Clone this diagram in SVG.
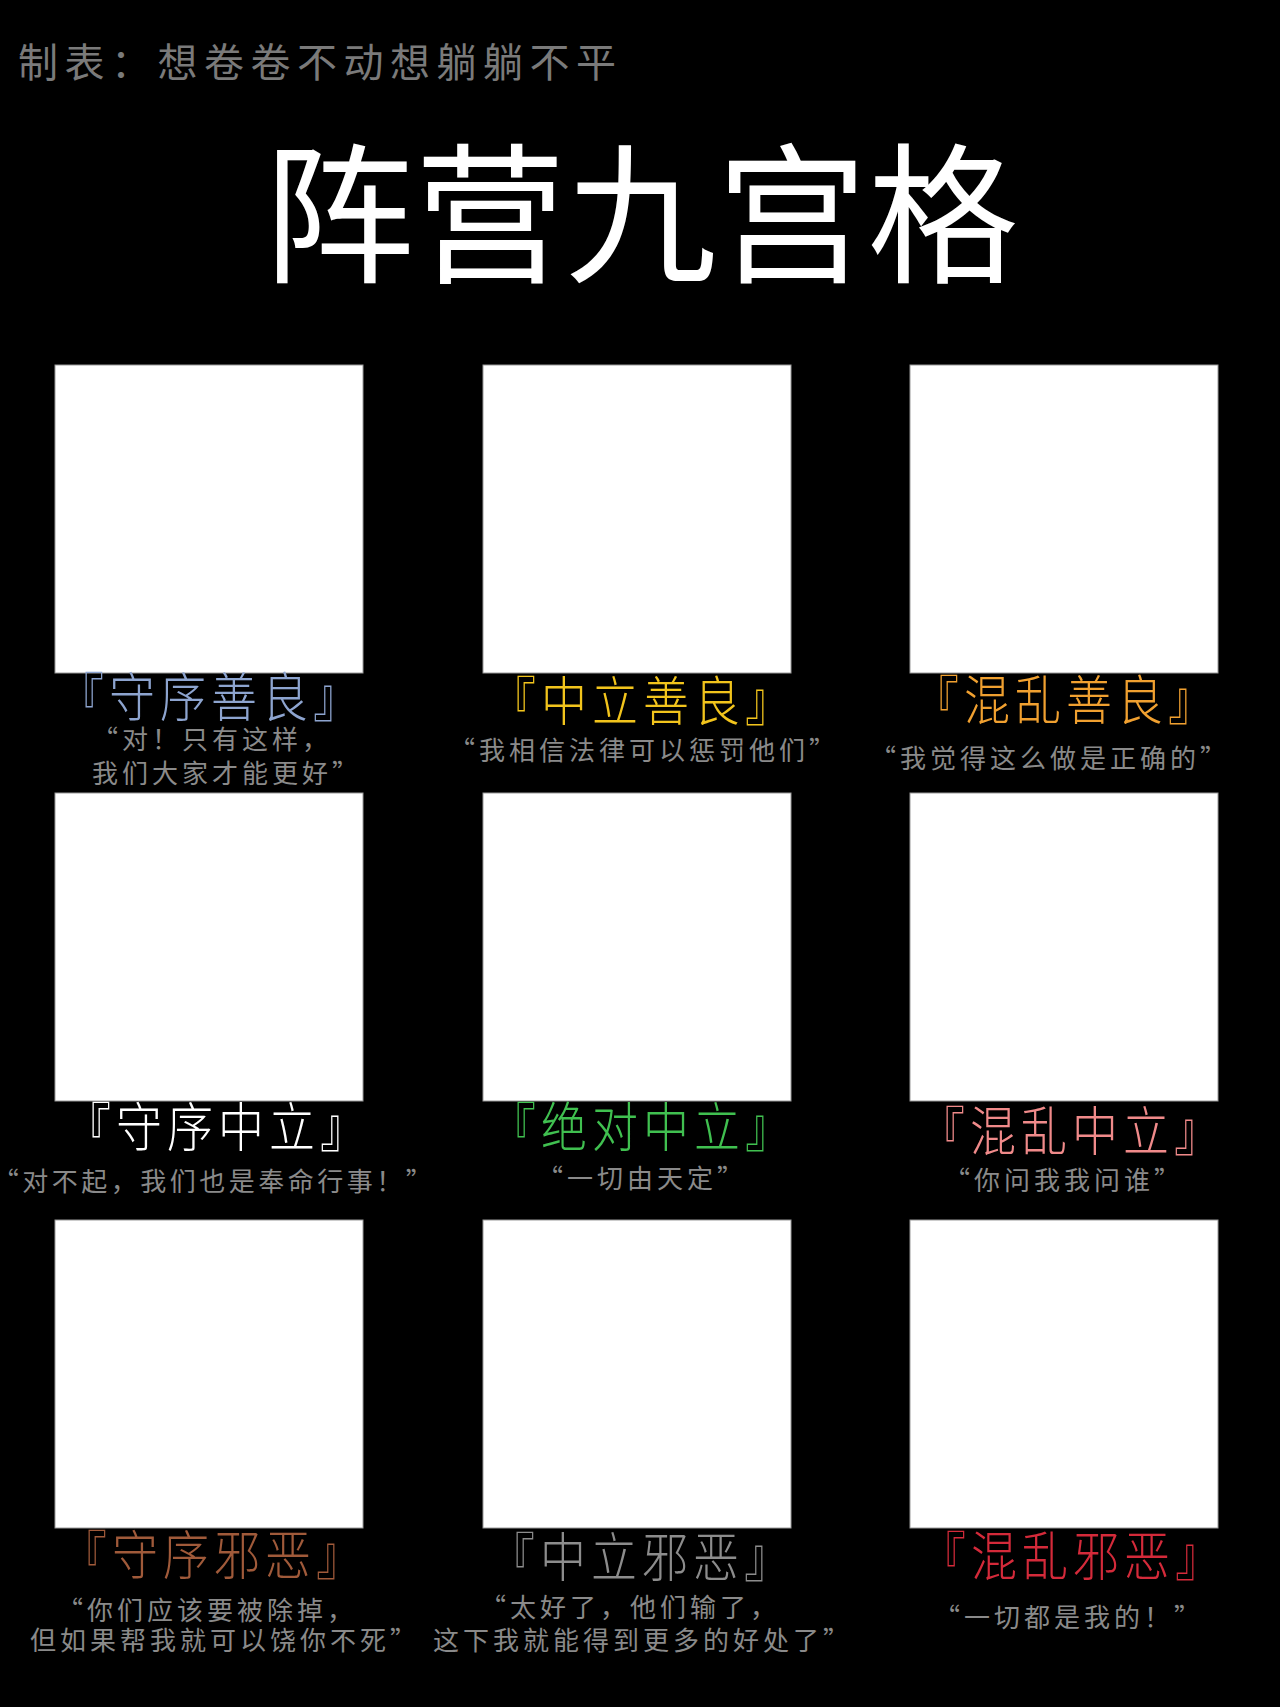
<svg xmlns="http://www.w3.org/2000/svg" width="1280" height="1707" viewBox="0 0 1280 1707">
<style>
.bg{fill:#000}
.box{fill:#fff;stroke:#9a9a9a;stroke-width:1}
.sub{font-family:"Noto Sans CJK SC","Noto Sans CJK JP",serif;font-size:40px;fill:#7a7a7a;letter-spacing:6.5px}
.title{font-family:"Noto Sans CJK SC","Noto Sans CJK JP",serif;font-size:151px;fill:#fff;font-weight:400}
.lab{font-family:"Noto Sans CJK SC","Noto Sans CJK JP",sans-serif;font-size:46px;font-weight:300;text-anchor:middle;letter-spacing:5px}
.q{font-family:"Noto Sans CJK SC","Noto Sans CJK JP",serif;font-size:26px;fill:#8a8a8a;letter-spacing:4px;text-anchor:middle}
</style>
<rect class="bg" x="0" y="0" width="1280" height="1707"/>
<g id="header">
<text class="sub" x="18" y="77">制表：想卷卷不动想躺躺不平</text>
<text class="title" x="641" y="271" text-anchor="middle">阵营九宫格</text>
</g>
<g id="connectors"/>
<g id="lawful-good">
<rect class="box" x="55" y="365" width="308" height="308"/>
<text class="lab" fill="#8da4cf" transform="translate(211,717) scale(1,1.15)">『守序善良』</text>
<text class="q" x="212" y="749">“对！只有这样，</text>
<text class="q" x="227" y="783">我们大家才能更好”</text>
</g>
<g id="neutral-good">
<rect class="box" x="483" y="365" width="308" height="308"/>
<text class="lab" fill="#f2c41c" transform="translate(643,721) scale(1,1.15)">『中立善良』</text>
<text class="q" x="644" y="760">“我相信法律可以惩罚他们”</text>
</g>
<g id="chaotic-good">
<rect class="box" x="910" y="365" width="308" height="308"/>
<text class="lab" fill="#f0a030" transform="translate(1066,720) scale(1,1.15)">『混乱善良』</text>
<text class="q" x="1050" y="768">“我觉得这么做是正确的”</text>
</g>
<g id="lawful-neutral">
<rect class="box" x="55" y="793" width="308" height="308"/>
<text class="lab" fill="#ffffff" transform="translate(218,1147) scale(1,1.15)">『守序中立』</text>
<text class="q" x="214" y="1191" style="letter-spacing:3.5px">“对不起，我们也是奉命行事！”</text>
</g>
<g id="true-neutral">
<rect class="box" x="483" y="793" width="308" height="308"/>
<text class="lab" fill="#40c050" transform="translate(643,1147) scale(1,1.15)">『绝对中立』</text>
<text class="q" x="642" y="1188">“一切由天定”</text>
</g>
<g id="chaotic-neutral">
<rect class="box" x="910" y="793" width="308" height="308"/>
<text class="lab" fill="#f08a8a" transform="translate(1072,1151) scale(1,1.15)">『混乱中立』</text>
<text class="q" x="1064" y="1190">“你问我我问谁”</text>
</g>
<g id="lawful-evil">
<rect class="box" x="55" y="1220" width="308" height="308"/>
<text class="lab" fill="#a05a3a" transform="translate(214,1575) scale(1,1.15)">『守序邪恶』</text>
<text class="q" x="207" y="1620">“你们应该要被除掉，</text>
<text class="q" x="225" y="1650">但如果帮我就可以饶你不死”</text>
</g>
<g id="neutral-evil">
<rect class="box" x="483" y="1220" width="308" height="308"/>
<text class="lab" fill="#8c8c8c" transform="translate(642,1577) scale(1,1.15)">『中立邪恶』</text>
<text class="q" x="630" y="1617">“太好了，他们输了，</text>
<text class="q" x="643" y="1650">这下我就能得到更多的好处了”</text>
</g>
<g id="chaotic-evil">
<rect class="box" x="910" y="1220" width="308" height="308"/>
<text class="lab" fill="#d42a3a" transform="translate(1073,1576) scale(1,1.15)">『混乱邪恶』</text>
<text class="q" x="1069" y="1627">“一切都是我的！”</text>
</g>
</svg>
